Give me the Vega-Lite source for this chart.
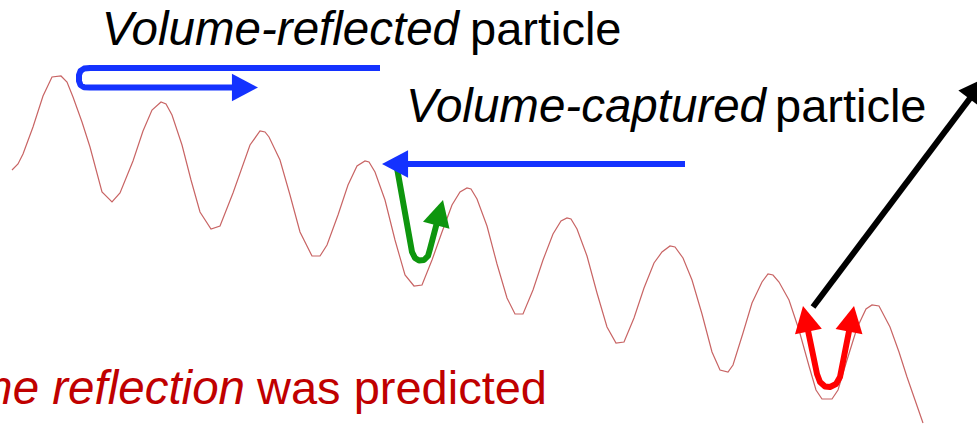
{
  "$schema": "https://vega.github.io/schema/vega-lite/v6.json",
  "width": 977,
  "height": 425,
  "autosize": {"type": "none"},
  "padding": 0,
  "background": "white",
  "config": {"view": {"stroke": null}},
  "datasets": {
    "curve": [
      {"x":12,"y":170},{"x":18,"y":164},{"x":23,"y":154},{"x":33,"y":127},{"x":43,"y":96},{"x":52,"y":77},{"x":61,"y":76},{"x":67,"y":82},{"x":73,"y":97},{"x":82,"y":122},{"x":90,"y":147},{"x":102,"y":192},{"x":112,"y":202},{"x":120,"y":193},{"x":133,"y":161},{"x":143,"y":131},{"x":152,"y":110},{"x":161,"y":102},{"x":166,"y":104},{"x":172,"y":115},{"x":182,"y":145},{"x":191,"y":180},{"x":200,"y":212},{"x":211,"y":229},{"x":220,"y":226},{"x":233,"y":193},{"x":250,"y":145},{"x":260,"y":131},{"x":265,"y":132},{"x":269,"y":137},{"x":280,"y":160},{"x":290,"y":195},{"x":300,"y":232},{"x":312,"y":256},{"x":320,"y":256},{"x":327,"y":245},{"x":338,"y":215},{"x":348,"y":185},{"x":357,"y":166},{"x":365,"y":161},{"x":369,"y":162},{"x":375,"y":172},{"x":385,"y":200},{"x":395,"y":240},{"x":405,"y":275},{"x":414,"y":286},{"x":422,"y":285},{"x":432,"y":260},{"x":442,"y":232},{"x":452,"y":205},{"x":460,"y":192},{"x":467,"y":188},{"x":471,"y":189},{"x":477,"y":199},{"x":487,"y":226},{"x":497,"y":264},{"x":507,"y":298},{"x":515,"y":314},{"x":523,"y":314},{"x":533,"y":290},{"x":543,"y":260},{"x":553,"y":234},{"x":561,"y":221},{"x":567,"y":218},{"x":571,"y":219},{"x":577,"y":229},{"x":587,"y":256},{"x":597,"y":293},{"x":607,"y":327},{"x":616,"y":343},{"x":624,"y":342},{"x":634,"y":318},{"x":644,"y":288},{"x":654,"y":263},{"x":662,"y":252},{"x":670,"y":246},{"x":675,"y":247},{"x":683,"y":258},{"x":692,"y":280},{"x":702,"y":314},{"x":712,"y":352},{"x":720,"y":370},{"x":728,"y":372},{"x":733,"y":365},{"x":743,"y":333},{"x":752,"y":303},{"x":762,"y":282},{"x":768,"y":274},{"x":773,"y":275},{"x":779,"y":282},{"x":789,"y":300},{"x":799,"y":330},{"x":809,"y":366},{"x":816,"y":390},{"x":822,"y":399},{"x":832,"y":399},{"x":838,"y":390},{"x":847,"y":360},{"x":857,"y":328},{"x":866,"y":309},{"x":872,"y":305},{"x":879,"y":306},{"x":890,"y":327},{"x":899,"y":352},{"x":907,"y":377},{"x":915,"y":400},{"x":923,"y":423}
    ],
    "paths": [
      {"p":"refl","o":0,"x":380,"y":68},{"p":"refl","o":1,"x":90,"y":68},{"p":"refl","o":2,"x":84,"y":68.6},{"p":"refl","o":3,"x":80.5,"y":71},{"p":"refl","o":4,"x":79,"y":75},{"p":"refl","o":5,"x":79,"y":81},{"p":"refl","o":6,"x":80.5,"y":85},{"p":"refl","o":7,"x":84,"y":87.2},{"p":"refl","o":8,"x":90,"y":87.6},{"p":"refl","o":9,"x":245,"y":87.5},
      {"p":"capt","o":0,"x":685,"y":164},{"p":"capt","o":1,"x":392,"y":164},
      {"p":"green","o":0,"x":397,"y":168},{"p":"green","o":1,"x":412,"y":252},{"p":"green","o":2,"x":415,"y":258},{"p":"green","o":3,"x":419,"y":260.5},{"p":"green","o":4,"x":424,"y":260},{"p":"green","o":5,"x":428,"y":256},{"p":"green","o":6,"x":430,"y":249},{"p":"green","o":7,"x":440,"y":211},
      {"p":"red","o":0,"x":805,"y":316},{"p":"red","o":1,"x":817,"y":374},{"p":"red","o":2,"x":820,"y":382},{"p":"red","o":3,"x":825,"y":386.5},{"p":"red","o":4,"x":830,"y":387},{"p":"red","o":5,"x":836,"y":384},{"p":"red","o":6,"x":840,"y":377},{"p":"red","o":7,"x":852,"y":316},
      {"p":"black","o":0,"x":813,"y":307},{"p":"black","o":1,"x":980,"y":85}
    ],
    "heads": [
      {"p":"refl","x":258,"y":87.5,"a":0},
      {"p":"capt","x":382,"y":164,"a":180},
      {"p":"green","x":443,"y":200,"a":285},
      {"p":"red","x":803,"y":306,"a":258},
      {"p":"red","x":854,"y":306,"a":281},
      {"p":"black","x":985,"y":78,"a":307}
    ],
    "italic": [
      {"x":459,"y":45,"t":"Volume-reflected","k":"top"},
      {"x":766,"y":122,"t":"Volume-captured","k":"top"},
      {"x":245,"y":404,"t":"Volume reflection","k":"bottom"}
    ],
    "normal": [
      {"x":470,"y":45,"t":"particle","k":"top"},
      {"x":775,"y":122,"t":"particle","k":"top"},
      {"x":257,"y":404,"t":"was predicted","k":"bottom"}
    ]
  },
  "resolve": {"scale": {"color": "independent"}},
  "layer": [
    {
      "data": {"name": "curve"},
      "mark": {"type": "line", "color": "#c86464", "strokeWidth": 1.2, "clip": true},
      "encoding": {
        "x": {"field": "x", "type": "quantitative", "scale": {"domain": [0, 977]}, "axis": null},
        "y": {"field": "y", "type": "quantitative", "scale": {"domain": [0, 425], "reverse": true}, "axis": null}
      }
    },
    {
      "data": {"name": "paths"},
      "mark": {"type": "line", "strokeWidth": 6, "strokeJoin": "round", "clip": true},
      "encoding": {
        "x": {"field": "x", "type": "quantitative", "scale": {"domain": [0, 977]}, "axis": null},
        "y": {"field": "y", "type": "quantitative", "scale": {"domain": [0, 425], "reverse": true}, "axis": null},
        "order": {"field": "o", "type": "quantitative"},
        "color": {"field": "p", "type": "nominal", "legend": null,
          "scale": {"domain": ["refl", "capt", "green", "red", "black"], "range": ["#1432ff", "#1432ff", "#0e960e", "#ff0000", "#000000"]}}
      }
    },
    {
      "data": {"name": "heads"},
      "mark": {"type": "point", "filled": true, "opacity": 1, "shape": "M0,0L-2,-1.05L-2,1.05Z", "size": 680, "strokeWidth": 0, "clip": true},
      "encoding": {
        "x": {"field": "x", "type": "quantitative", "scale": {"domain": [0, 977]}, "axis": null},
        "y": {"field": "y", "type": "quantitative", "scale": {"domain": [0, 425], "reverse": true}, "axis": null},
        "angle": {"field": "a", "type": "quantitative", "scale": null},
        "color": {"field": "p", "type": "nominal", "legend": null,
          "scale": {"domain": ["refl", "capt", "green", "red", "black"], "range": ["#1432ff", "#1432ff", "#0e960e", "#ff0000", "#000000"]}}
      }
    },
    {
      "data": {"name": "italic"},
      "mark": {"type": "text", "font": "Liberation Sans", "fontSize": 47.5, "fontStyle": "italic", "align": "right", "baseline": "alphabetic", "clip": true},
      "encoding": {
        "x": {"field": "x", "type": "quantitative", "scale": {"domain": [0, 977]}, "axis": null},
        "y": {"field": "y", "type": "quantitative", "scale": {"domain": [0, 425], "reverse": true}, "axis": null},
        "text": {"field": "t"},
        "color": {"field": "k", "type": "nominal", "legend": null, "scale": {"domain": ["top", "bottom"], "range": ["#000000", "#c00000"]}}
      }
    },
    {
      "data": {"name": "normal"},
      "mark": {"type": "text", "font": "Liberation Sans", "fontSize": 47, "align": "left", "baseline": "alphabetic", "clip": true},
      "encoding": {
        "x": {"field": "x", "type": "quantitative", "scale": {"domain": [0, 977]}, "axis": null},
        "y": {"field": "y", "type": "quantitative", "scale": {"domain": [0, 425], "reverse": true}, "axis": null},
        "text": {"field": "t"},
        "color": {"field": "k", "type": "nominal", "legend": null, "scale": {"domain": ["top", "bottom"], "range": ["#000000", "#c00000"]}}
      }
    }
  ]
}
